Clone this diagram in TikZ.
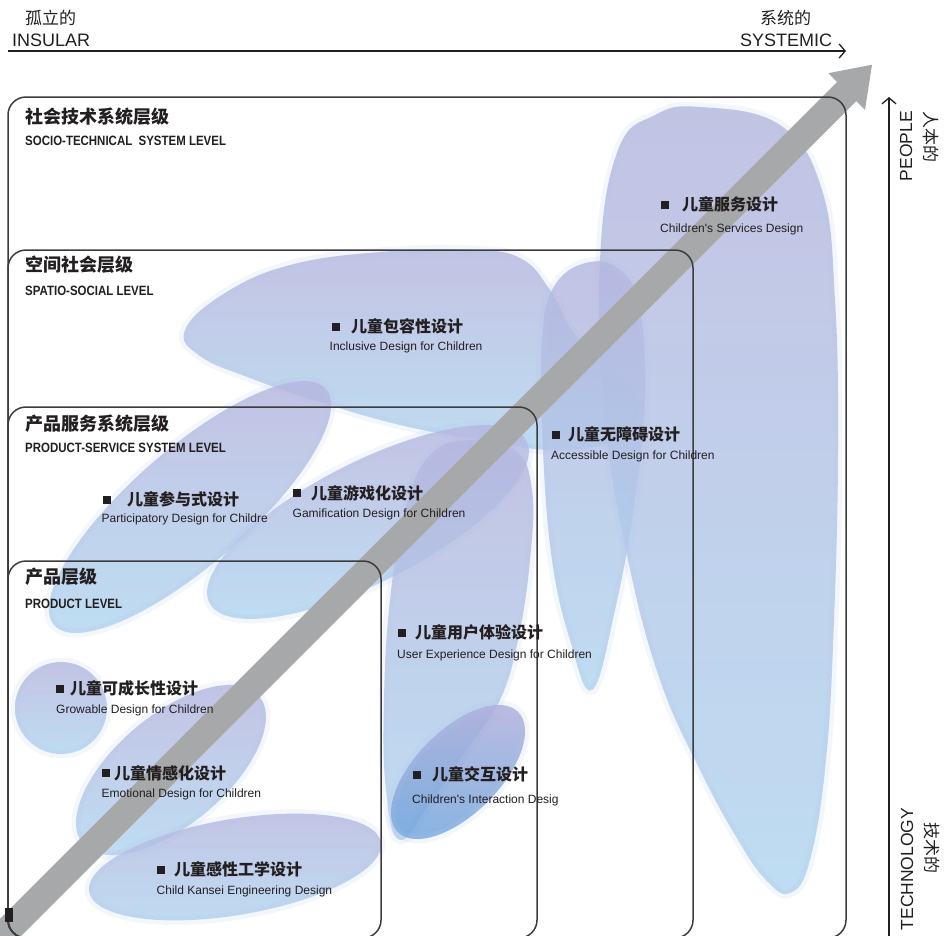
\documentclass[tikz,border=0pt]{standalone}
\usepackage{fontspec}
\setmainfont{Liberation Sans}[Ligatures=TeXOff]
\newfontfamily\cjk{Noto Sans CJK SC}
\newfontfamily\condf[FakeStretch=0.85]{Liberation Sans}
\usetikzlibrary{arrows.meta}
\definecolor{txt}{HTML}{231F20}
\definecolor{boxline}{HTML}{3C3C3C}
\definecolor{btop}{RGB}{181,182,222}
\definecolor{bbot}{RGB}{176,213,240}
\definecolor{bmid}{RGB}{180,196,232}
\definecolor{itop}{RGB}{170,172,218}
\definecolor{ibot}{RGB}{112,164,220}
\definecolor{arrowgray}{HTML}{A7A8AA}
\tikzset{
  blob/.style={top color=btop, bottom color=bbot, fill opacity=0.82, draw=bmid, draw opacity=0.16, line width=9pt},
  levelbox/.style={draw=boxline, line width=1.5pt, rounded corners=18pt},
  lvlzh/.style={anchor=base west, inner sep=0pt, text=txt, font=\cjk\bfseries\fontsize{18}{18}\selectfont},
  lvlen/.style={anchor=base west, inner sep=0pt, text=txt, font=\condf\bfseries\fontsize{13.5}{14}\selectfont},
  itzh/.style={anchor=base west, inner sep=0pt, text=txt, font=\cjk\bfseries\fontsize{16}{16}\selectfont},
  iten/.style={anchor=base west, inner sep=0pt, text=txt, font=\fontsize{12}{12}\selectfont},
  bul/.style={anchor=west, rectangle, fill=txt, inner sep=0pt, minimum size=8pt},
  axzh/.style={inner sep=0pt, text=txt, font=\cjk\fontsize{17}{17}\selectfont},
  axen/.style={inner sep=0pt, text=txt, font=\fontsize{18}{18}\selectfont},
  axline/.style={draw=txt, line width=1.3pt, -{Straight Barb[length=6pt,width=14pt,line width=1.3pt]}}
}
\begin{document}
\begin{tikzpicture}[x=1pt,y=1pt]
\useasboundingbox (0,0) rectangle (944,-935);
\clip (0,0) rectangle (944,-935);
% ---------- blobs ----------
\path[blob] plot[smooth cycle, tension=0.7] coordinates {(700,-107) (780,-125) (822,-190) (835,-300) (838,-450) (834,-620) (826,-760) (810,-860) (790,-893) (766,-880) (738,-840) (700,-770) (660,-680) (628,-560) (605,-420) (600,-260) (618,-150) (655,-115)};
\path[blob] plot[smooth cycle, tension=0.7] coordinates {(185,-330) (225,-293) (290,-265) (380,-252) (470,-250) (520,-258) (550,-290) (575,-335) (610,-370) (640,-405) (615,-440) (555,-450) (480,-440) (400,-425) (320,-402) (250,-378) (200,-356)};
\path[blob] plot[smooth cycle, tension=0.7] coordinates {(590,-262) (622,-272) (640,-310) (645,-400) (635,-500) (615,-610) (592,-690) (570,-640) (552,-560) (543,-450) (542,-340) (555,-285)};
\path[blob] (190,-507) ellipse [x radius=180, y radius=58, rotate=41];
\path[blob] (368,-522) ellipse [x radius=178, y radius=60, rotate=27];
\path[blob] plot[smooth cycle, tension=0.7] coordinates {(470,-440) (515,-450) (532,-490) (530,-560) (518,-640) (500,-700) (470,-745) (432,-800) (400,-840) (386,-790) (384,-700) (390,-600) (405,-510) (430,-455)};
\path[blob, top color=itop, bottom color=ibot] (458,-772) ellipse [x radius=85, y radius=42, rotate=45];
\path[blob] (61,-708) circle [radius=46];
\path[blob] (171,-770) ellipse [x radius=115, y radius=55, rotate=40];
\path[blob] (235,-867) ellipse [x radius=148, y radius=48, rotate=9.6];
% ---------- diagonal gray arrow ----------
\fill[arrowgray] (-16.55,-935.45) -- (837.05,-82.05) -- (828.2,-73.2) -- (872,-64.7) -- (865,-110) -- (856.15,-101.15) -- (2.55,-954.55) -- cycle;
% ---------- level boxes ----------
\draw[levelbox] (8,-97) rectangle (846,-938);
\draw[levelbox] (8,-250) rectangle (693,-938);
\draw[levelbox] (8,-407) rectangle (537,-938);
\draw[levelbox] (8,-561) rectangle (381,-938);
\fill[txt] (5,-908) rectangle (13,-922);
% ---------- axes ----------
\coordinate (xa) at (8,-51);
\coordinate (xb) at (846,-51);
\draw[axline] (xa) -- (xb);
\coordinate (ya) at (889,-940);
\coordinate (yb) at (889,-97);
\draw[axline] (ya) -- (yb);
\node[axzh, anchor=base west] (insz) at (25,-24.5) {孤立的};
\node[axen, anchor=base west] (insen) at (12,-46) {INSULAR};
\node[axzh, anchor=base west] (sysz) at (760,-24.5) {系统的};
\node[axen, anchor=base west] (sysen) at (740,-46) {SYSTEMIC};
\node[axen, rotate=90, font=\fontsize{17.5}{18}\selectfont] (peo) at (906,-146) {PEOPLE};
\node[axzh, rotate=-90] (peoz) at (931,-137) {人本的};
\node[axen, rotate=90, font=\fontsize{17.5}{18}\selectfont] (tech) at (907,-869) {TECHNOLOGY};
\node[axzh, rotate=-90] (techz) at (932,-848) {技术的};
% ---------- level labels ----------
\node[lvlzh] (l1z) at (25,-123.5) {社会技术系统层级};
\node[lvlen] (l1e) at (25,-145) {SOCIO-TECHNICAL\ \ SYSTEM LEVEL};
\node[lvlzh] (l2z) at (25,-271.5) {空间社会层级};
\node[lvlen] (l2e) at (25,-295.5) {SPATIO-SOCIAL LEVEL};
\node[lvlzh] (l3z) at (25,-430.5) {产品服务系统层级};
\node[lvlen] (l3e) at (25,-452) {PRODUCT-SERVICE SYSTEM LEVEL};
\node[lvlzh] (l4z) at (25,-583.5) {产品层级};
\node[lvlen] (l4e) at (25,-608) {PRODUCT LEVEL};
% ---------- items ----------
\node[bul] (b1) at (661,-204.5) {};
\node[itzh] (i1z) at (682,-210.5) {儿童服务设计};
\node[iten] (i1e) at (660,-232) {Children's Services Design};
\node[bul] (b2) at (332,-326.5) {};
\node[itzh] (i2z) at (351,-332) {儿童包容性设计};
\node[iten] (i2e) at (329.5,-350.3) {Inclusive Design for Children};
\node[bul] (b3) at (552,-435) {};
\node[itzh] (i3z) at (568,-440.5) {儿童无障碍设计};
\node[iten] (i3e) at (551,-459.6) {Accessible Design for Children};
\node[bul] (b4) at (103,-500) {};
\node[itzh] (i4z) at (127,-505.5) {儿童参与式设计};
\node[iten] (i4e) at (101.5,-522) {Participatory Design for Childre};
\node[bul] (b5) at (293,-493) {};
\node[itzh] (i5z) at (311,-499) {儿童游戏化设计};
\node[iten] (i5e) at (292.5,-517) {Gamification Design for Children};
\node[bul] (b6) at (398,-632.5) {};
\node[itzh] (i6z) at (415,-638) {儿童用户体验设计};
\node[iten] (i6e) at (397,-658.6) {User Experience Design for Children};
\node[bul] (b7) at (413,-775) {};
\node[itzh] (i7z) at (432,-780.5) {儿童交互设计};
\node[iten] (i7e) at (412,-803.6) {Children's Interaction Desig};
\node[bul] (b8) at (56,-688.5) {};
\node[itzh] (i8z) at (70,-694) {儿童可成长性设计};
\node[iten] (i8e) at (56,-713.6) {Growable Design for Children};
\node[bul] (b9) at (102,-773) {};
\node[itzh] (i9z) at (114,-779) {儿童情感化设计};
\node[iten] (i9e) at (101.5,-797) {Emotional Design for Children};
\node[bul] (b10) at (157,-869.5) {};
\node[itzh] (i10z) at (174,-875) {儿童感性工学设计};
\node[iten] (i10e) at (156.5,-894.6) {Child Kansei Engineering Design};
\end{tikzpicture}
\end{document}
